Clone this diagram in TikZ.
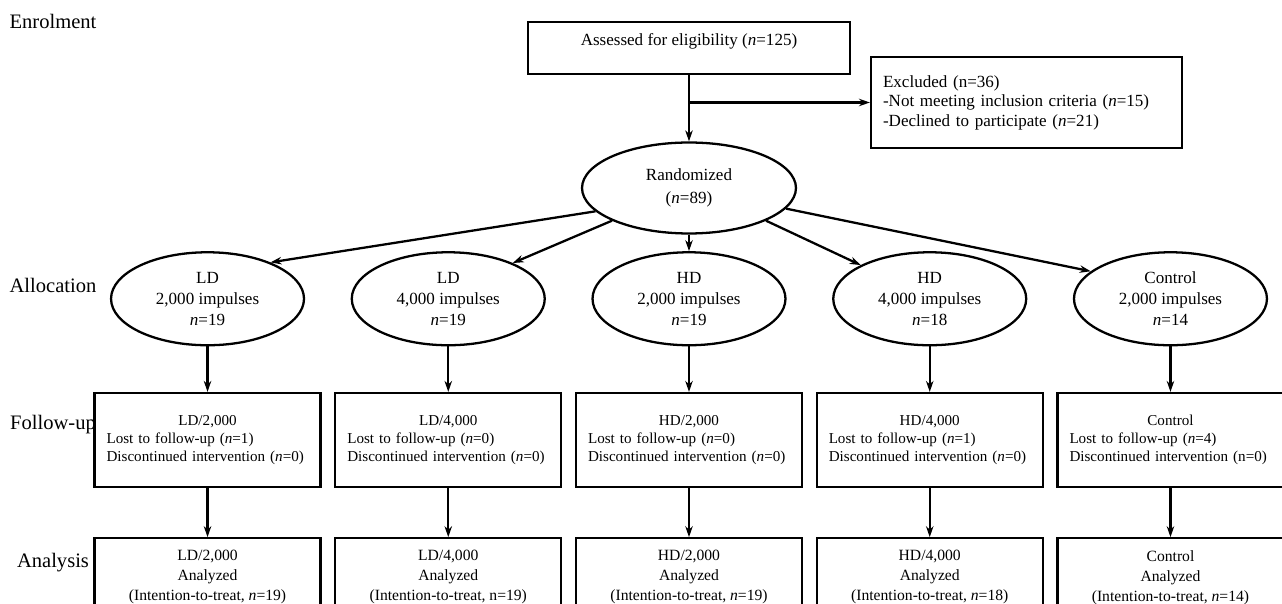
\documentclass[tikz,border=0pt]{standalone}
\usepackage{fontspec}
\setmainfont{Liberation Serif}
\usetikzlibrary{positioning, shapes.geometric, arrows.meta}
\tikzset{
    stage/.style={font=\fontsize{11.7}{14}\selectfont},
    box node/.style={rectangle, draw, line width=1.3pt, inner sep=0pt, align=center, font=\fontsize{9.7}{11.9}\selectfont},
    oval node/.style={ellipse, draw, line width=1.3pt, inner sep=0pt, align=center, minimum width=3.86cm, minimum height=1.86cm, font=\fontsize{9.7}{11.9}\selectfont},
    excl node/.style={box node, align=left, text width=5.74cm, inner xsep=0.24cm, minimum height=1.82cm, font=\fontsize{9.7}{11.1}\selectfont},
    fu node/.style={box node, align=left, text width=4.04cm, inner xsep=0.24cm, minimum height=1.88cm, font=\fontsize{8.6}{10.2}\selectfont},
    an node/.style={box node, minimum width=4.52cm, minimum height=1.56cm, font=\fontsize{8.9}{11.4}\selectfont},
    arrow/.style={line width=1.3pt, -{Stealth[length=0.22cm, width=0.15cm]}},
}
\newcommand{\flow}[2]{\path[draw, arrow] (#1) -- (#2);}
\newcommand{\fulines}[3]{\noindent\makebox[\hsize]{#1}\\#2\\#3}

\begin{document}
\begin{tikzpicture}[x=0.02cm, y=-0.02cm]
        \path[use as bounding box, clip] (0,0) rectangle (1282,604);

        % stages
        \node[stage] (enrol) at (53,21) {Enrolment};
        \node[stage] (alloc) at (53,285) {Allocation};
        \node[stage] (follow) at (53,425) {Follow-up};
        \node[stage] (analy) at (53,563) {Analysis};

        % enrolment
        \node[oval node, minimum width=4.28cm, minimum height=1.82cm, font=\fontsize{9.7}{13.1}\selectfont] (rand) at (689,188) {Randomized\\(\textit{n}=89)};
        \node[box node, minimum width=6.44cm, minimum height=1.04cm, text height=0.24cm, text depth=0.34cm] (assess) [above=1.32cm of rand] {Assessed for eligibility (\textit{n}=125)};
        \node[excl node] (excl) at (1026.5,102.5) {Excluded (n=36)\\-Not meeting inclusion criteria (\textit{n}=15)\\-Declined to participate (\textit{n}=21)};
        \coordinate (split) at (assess.south |- excl.west);

        % allocation
        \node[oval node] (al3) [below=0.33cm of rand] {HD\\2,000 impulses\\\textit{n}=19};
        \node[oval node] (al2) [left=0.91cm of al3] {LD\\4,000 impulses\\\textit{n}=19};
        \node[oval node] (al1) [left=0.91cm of al2] {LD\\2,000 impulses\\\textit{n}=19};
        \node[oval node] (al4) [right=0.91cm of al3] {HD\\4,000 impulses\\\textit{n}=18};
        \node[oval node] (al5) [right=0.91cm of al4] {Control\\2,000 impulses\\\textit{n}=14};

        % follow-up
        \node[fu node] (fu1) [below=0.91cm of al1] {\fulines{LD/2,000}{Lost to follow-up (\textit{n}=1)}{Discontinued intervention (\textit{n}=0)}};
        \node[fu node] (fu2) [below=0.91cm of al2] {\fulines{LD/4,000}{Lost to follow-up (\textit{n}=0)}{Discontinued intervention (\textit{n}=0)}};
        \node[fu node] (fu3) [below=0.91cm of al3] {\fulines{HD/2,000}{Lost to follow-up (\textit{n}=0)}{Discontinued intervention (\textit{n}=0)}};
        \node[fu node] (fu4) [below=0.91cm of al4] {\fulines{HD/4,000}{Lost to follow-up (\textit{n}=1)}{Discontinued intervention (\textit{n}=0)}};
        \node[fu node] (fu5) [below=0.91cm of al5] {\fulines{Control}{Lost to follow-up (\textit{n}=4)}{Discontinued intervention (n=0)}};

        % analysis
        \node[an node] (an1) [below=0.98cm of fu1] {LD/2,000\\Analyzed\\(Intention-to-treat, \textit{n}=19)};
        \node[an node] (an2) [below=0.98cm of fu2] {LD/4,000\\Analyzed\\(Intention-to-treat, n=19)};
        \node[an node] (an3) [below=0.98cm of fu3] {HD/2,000\\Analyzed\\(Intention-to-treat, \textit{n}=19)};
        \node[an node] (an4) [below=0.98cm of fu4] {HD/4,000\\Analyzed\\(Intention-to-treat, \textit{n}=18)};
        \node[an node] (an5) [below=0.98cm of fu5] {Control\\Analyzed\\(Intention-to-treat, \textit{n}=14)};

        \flow{assess}{rand}
        \flow{split}{excl}
        \flow{rand.194}{al1.30}
        \flow{rand.203}{al2.29}
        \flow{rand}{al3}
        \flow{rand.337}{al4.154}
        \flow{rand.348}{al5.161}
        \flow{al1}{fu1}
        \flow{al2}{fu2}
        \flow{al3}{fu3}
        \flow{al4}{fu4}
        \flow{al5}{fu5}
        \flow{fu1}{an1}
        \flow{fu2}{an2}
        \flow{fu3}{an3}
        \flow{fu4}{an4}
        \flow{fu5}{an5}
    \end{tikzpicture}
\end{document}
